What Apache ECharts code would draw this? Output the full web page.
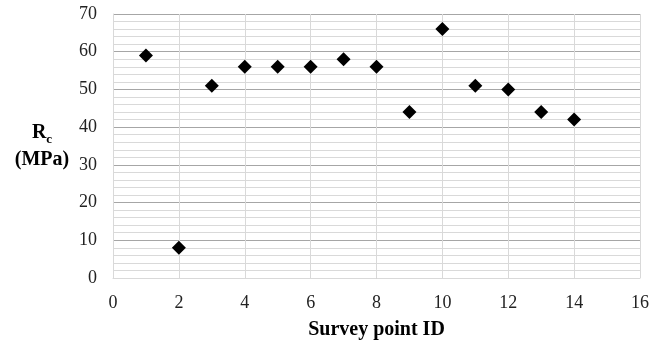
<!DOCTYPE html>
<html>
<head>
<meta charset="utf-8">
<script src="https://cdn.jsdelivr.net/npm/echarts@6/dist/echarts.min.js"></script>
<style>
  html, body { margin: 0; padding: 0; background: #fff; }
  #chart { width: 668px; height: 342px; }
</style>
</head>
<body>
<div id="chart"></div>
<script>
// survey point IDs and measured Rc (MPa)
const pointIds = [1, 2, 3, 4, 5, 6, 7, 8, 9, 10, 11, 12, 13, 14];
const rcValues = [59, 8, 51, 56, 56, 56, 58, 56, 44, 66, 51, 50, 44, 42];

const chart = echarts.init(document.getElementById('chart'));
const serif = 'Liberation Serif';

const option = {
  animation: false,
  grid: { left: 113, right: 28, top: 14, bottom: 64, containLabel: false, outerBoundsMode: 'none' },
  xAxis: {
    type: 'value',
    min: 0,
    max: 16,
    interval: 2,
    name: 'Survey point ID',
    nameLocation: 'middle',
    nameGap: 42,
    nameTextStyle: { fontFamily: serif, fontSize: 20, fontWeight: 'bold', color: '#000' },
    axisLine: { show: true, lineStyle: { color: '#d9d9d9' } },
    axisTick: { show: false },
    axisLabel: { fontFamily: serif, fontSize: 18, color: '#222', margin: 16 },
    splitLine: { show: true, lineStyle: { color: '#d9d9d9', width: 1 } }
  },
  yAxis: {
    type: 'value',
    min: 0,
    max: 70,
    interval: 10,
    name: '{r|R}{s|c}\n{r|(MPa)}',
    nameLocation: 'middle',
    nameRotate: 0,
    nameGap: 71,
    nameTextStyle: {
      align: 'center',
      rich: {
        r: { fontFamily: serif, fontSize: 20, fontWeight: 'bold', color: '#000', lineHeight: 27 },
        s: { fontFamily: serif, fontSize: 13, fontWeight: 'bold', color: '#000', verticalAlign: 'bottom', padding: [9, 0, 0, 0] }
      }
    },
    axisLine: { show: true, lineStyle: { color: '#d9d9d9' } },
    axisTick: { show: false },
    axisLabel: { fontFamily: serif, fontSize: 18, color: '#222', margin: 16 },
    splitLine: { show: true, lineStyle: { color: '#a6a6a6', width: 1 } },
    minorTick: { show: false, splitNumber: 5 },
    minorSplitLine: { show: true, lineStyle: { color: '#d9d9d9', width: 1 } }
  },
  series: [
    {
      type: 'scatter',
      symbol: 'diamond',
      symbolSize: 14,
      itemStyle: { color: '#000', opacity: 1 },
      data: pointIds.map((id, i) => [id, rcValues[i]])
    }
  ]
};

chart.setOption(option);
</script>
</body>
</html>
